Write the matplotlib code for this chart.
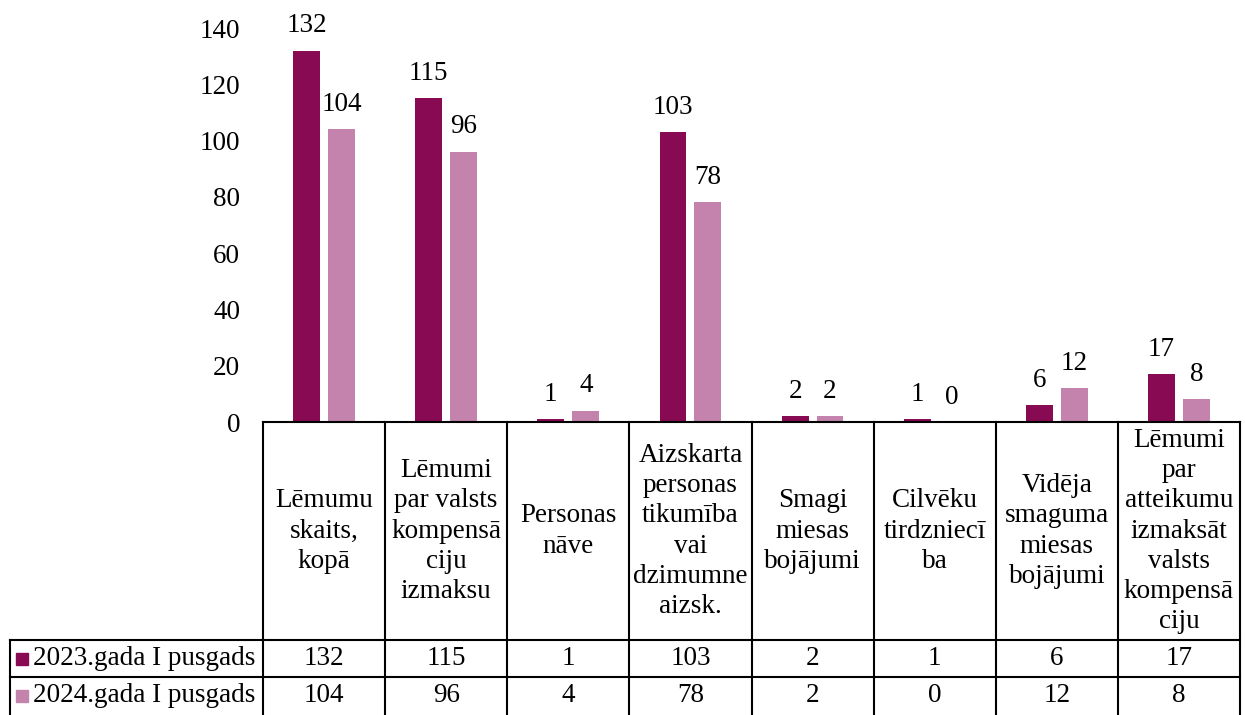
import matplotlib.pyplot as plt
import numpy as np

categories = ["Lēmumu\nskaits,\nkopā",
              "Lēmumi\npar valsts\nkompensā\nciju\nizmaksu",
              "Personas\nnāve",
              "Aizskarta\npersonas\ntikumība\nvai\ndzimumne\naizsk.",
              "Smagi\nmiesas\nbojājumi",
              "Cilvēku\ntirdzniecī\nba",
              "Vidēja\nsmaguma\nmiesas\nbojājumi",
              "Lēmumi\npar\natteikumu\nizmaksāt\nvalsts\nkompensā\nciju"]
series_names = ["2023.gada I pusgads", "2024.gada I pusgads"]
vals_2023 = [132, 115, 1, 103, 2, 1, 6, 17]
vals_2024 = [104, 96, 4, 78, 2, 0, 12, 8]
yticks = [0, 20, 40, 60, 80, 100, 120, 140]

c_dark = "#870A52"
c_light = "#C383AC"

plt.rcParams['font.family'] = ['Liberation Serif', 'DejaVu Serif']
fs = 19.5

W, H = 1245, 715
fig = plt.figure(figsize=(W / 100, H / 100), dpi=100)
ax = fig.add_axes([263 / W, (H - 422) / H, 977 / W, 394 / H])

x = np.arange(len(categories))
bw = 0.22
off = 0.143
b1 = ax.bar(x - off, vals_2023, bw, color=c_dark)
b2 = ax.bar(x + off, vals_2024, bw, color=c_light)
for bars, vals in ((b1, vals_2023), (b2, vals_2024)):
    for b, v in zip(bars, vals):
        ax.annotate(str(v), (b.get_x() + b.get_width() / 2, v), xytext=(0, 9),
                    textcoords="offset points", ha="center", va="bottom",
                    fontsize=fs, clip_on=False)

ax.set_xlim(-0.5, len(categories) - 0.5)
ax.set_ylim(0, 140)
ax.set_yticks(yticks)
ax.tick_params(axis='y', length=0, pad=16.5, labelsize=fs)
ax.set_xticks([])
for s in ax.spines.values():
    s.set_visible(False)

# data table below the axis
tr = ax.get_xaxis_transform()
lw = 1.5
y_head = -218 / 394
y_row1 = -255 / 394
y_row2 = -293 / 394
x_left = -0.5 - 253 / 122.1
n = len(categories)

ax.plot([-0.5, n - 0.5], [0, 0], transform=tr, color="black", lw=lw, clip_on=False)
ax.plot([x_left, n - 0.5], [y_head, y_head], transform=tr, color="black", lw=lw, clip_on=False)
ax.plot([x_left, n - 0.5], [y_row1, y_row1], transform=tr, color="black", lw=lw, clip_on=False)
ax.plot([x_left, x_left], [y_head, y_row2], transform=tr, color="black", lw=lw, clip_on=False)
for i in range(n + 1):
    ax.plot([i - 0.5, i - 0.5], [0, y_row2], transform=tr, color="black", lw=lw, clip_on=False)

for i, cat in enumerate(categories):
    ax.text(i, y_head / 2, cat, transform=tr, ha="center", va="center",
            fontsize=fs, linespacing=1.27)
    ax.text(i, (y_head + y_row1) / 2, str(vals_2023[i]), transform=tr,
            ha="center", va="center", fontsize=fs)
    ax.text(i, (y_row1 + y_row2) / 2, str(vals_2024[i]), transform=tr,
            ha="center", va="center", fontsize=fs)

for name, col, (ya, yb) in ((series_names[0], c_dark, (y_head, y_row1)),
                            (series_names[1], c_light, (y_row1, y_row2))):
    ym = (ya + yb) / 2
    ax.plot([x_left + 0.1], [ym], transform=tr, marker="s", ms=9,
            color=col, clip_on=False)
    ax.text(x_left + 0.19, ym, name, transform=tr, ha="left", va="center",
            fontsize=fs)

fig.savefig("out.png", dpi=100)
